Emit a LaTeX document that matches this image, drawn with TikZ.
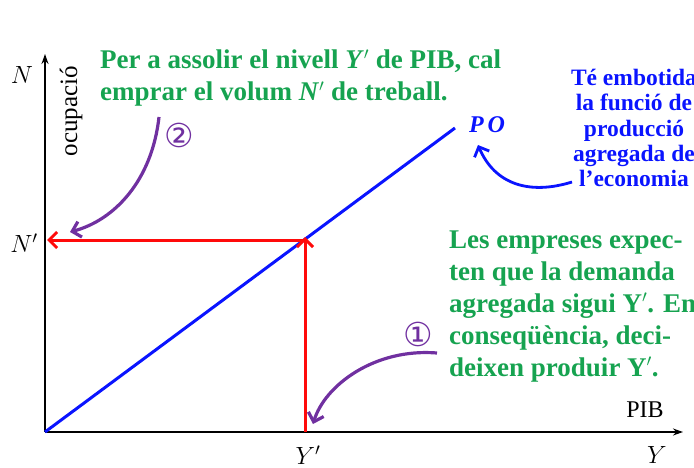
\documentclass[tikz,border=0pt]{standalone}
\usepackage{fontspec}
\setmainfont{Liberation Serif}
\usetikzlibrary{arrows.meta}
\newfontfamily\symfont{DejaVu Sans}
\definecolor{tgreen}{RGB}{22,163,80}
\definecolor{tpurple}{RGB}{112,48,160}
\definecolor{tblue}{RGB}{10,20,255}
\definecolor{tred}{RGB}{255,10,10}
\tikzset{
  axis/.style={line width=1.8pt,-{Stealth[length=10pt,width=7pt]}},
  redarrow/.style={tred,line width=3pt,-{Straight Barb[length=8pt,width=16pt,line width=3pt]}},
  purparrow/.style={tpurple,line width=3.2pt,-{Straight Barb[length=8pt,width=16pt,line width=3.2pt]}},
  bluearrow/.style={tblue,line width=2.8pt,-{Straight Barb[length=8pt,width=16pt,line width=2.8pt]}},
  greentext/.style={tgreen,font=\fontsize{27}{32}\selectfont\bfseries,align=left,inner sep=0pt},
  bluetext/.style={tblue,font=\fontsize{23.5}{25.5}\selectfont\bfseries,align=center,inner sep=0pt},
  lab/.style={font=\fontsize{24}{26}\selectfont,inner sep=0pt},
  circnum/.style={tpurple,font=\fontsize{33}{34}\symfont,inner sep=0pt}
}
\begin{document}
\begin{tikzpicture}[x=1pt,y=-1pt]
\useasboundingbox (0,0) rectangle (694,468);
\coordinate (O) at (45,432);
\coordinate (ytop) at (45,54);
\coordinate (xend) at (683,432);
\draw[axis] (O) -- (ytop);
\draw[axis] (O) -- (xend);
\node[lab] (N) at (22,75) {$N$};
\node[lab,rotate=90,font=\fontsize{25}{28}\selectfont] (ocup) at (71,111) {ocupació};
\node[lab] (Np) at (24,243) {$N'$};
\node[lab] (Yp) at (308,455) {$Y'$};
\node[lab] (Y) at (657,455) {$Y$};
\node[lab] (PIB) at (645,410) {PIB};
\coordinate (POend) at (455,128);
\draw[tblue,line width=3pt] (O) -- (POend);
\node[tblue,font=\fontsize{24}{26}\selectfont\bfseries\itshape,inner sep=0pt] (PO) at (487,125) {P\,O};
\coordinate (E) at (305,240);
\coordinate (Ybase) at (305,432);
\coordinate (Nend) at (47,240);
\draw[redarrow] (E) -- (Nend);
\draw[redarrow] (Ybase) -- ([yshift=3pt]E);
\node[greentext,anchor=base west] (t1) at (100,101) {Per a assolir el nivell \textit{Y}$'$ de PIB, cal\\emprar el volum \textit{N}$'$ de treball.};
\node[bluetext,anchor=base] (t2) at (634,187) {Té embotida\\la funció de\\producció\\agregada de\\l’economia};
\node[greentext,anchor=base west] (t3) at (449,376) {Les empreses expec-\\ten que la demanda\\agregada sigui Y$'$. En\\conseqüència, deci-\\deixen produir Y$'$.};
\node[circnum] (c2) at (179,135) {②};
\node[circnum] (c1) at (418,334) {①};
\coordinate (a2s) at (159,117);
\coordinate (a2e) at (70,232);
\draw[purparrow] (a2s) .. controls (152,180) and (115,220) .. (a2e);
\coordinate (a1s) at (437,353);
\coordinate (a1e) at (313,424);
\draw[purparrow] (a1s) .. controls (375,348) and (325,385) .. (a1e);
\coordinate (bs) at (572,182);
\coordinate (be) at (478,145);
\draw[bluearrow] (bs) .. controls (530,195) and (495,185) .. (be);
\end{tikzpicture}
\end{document}
